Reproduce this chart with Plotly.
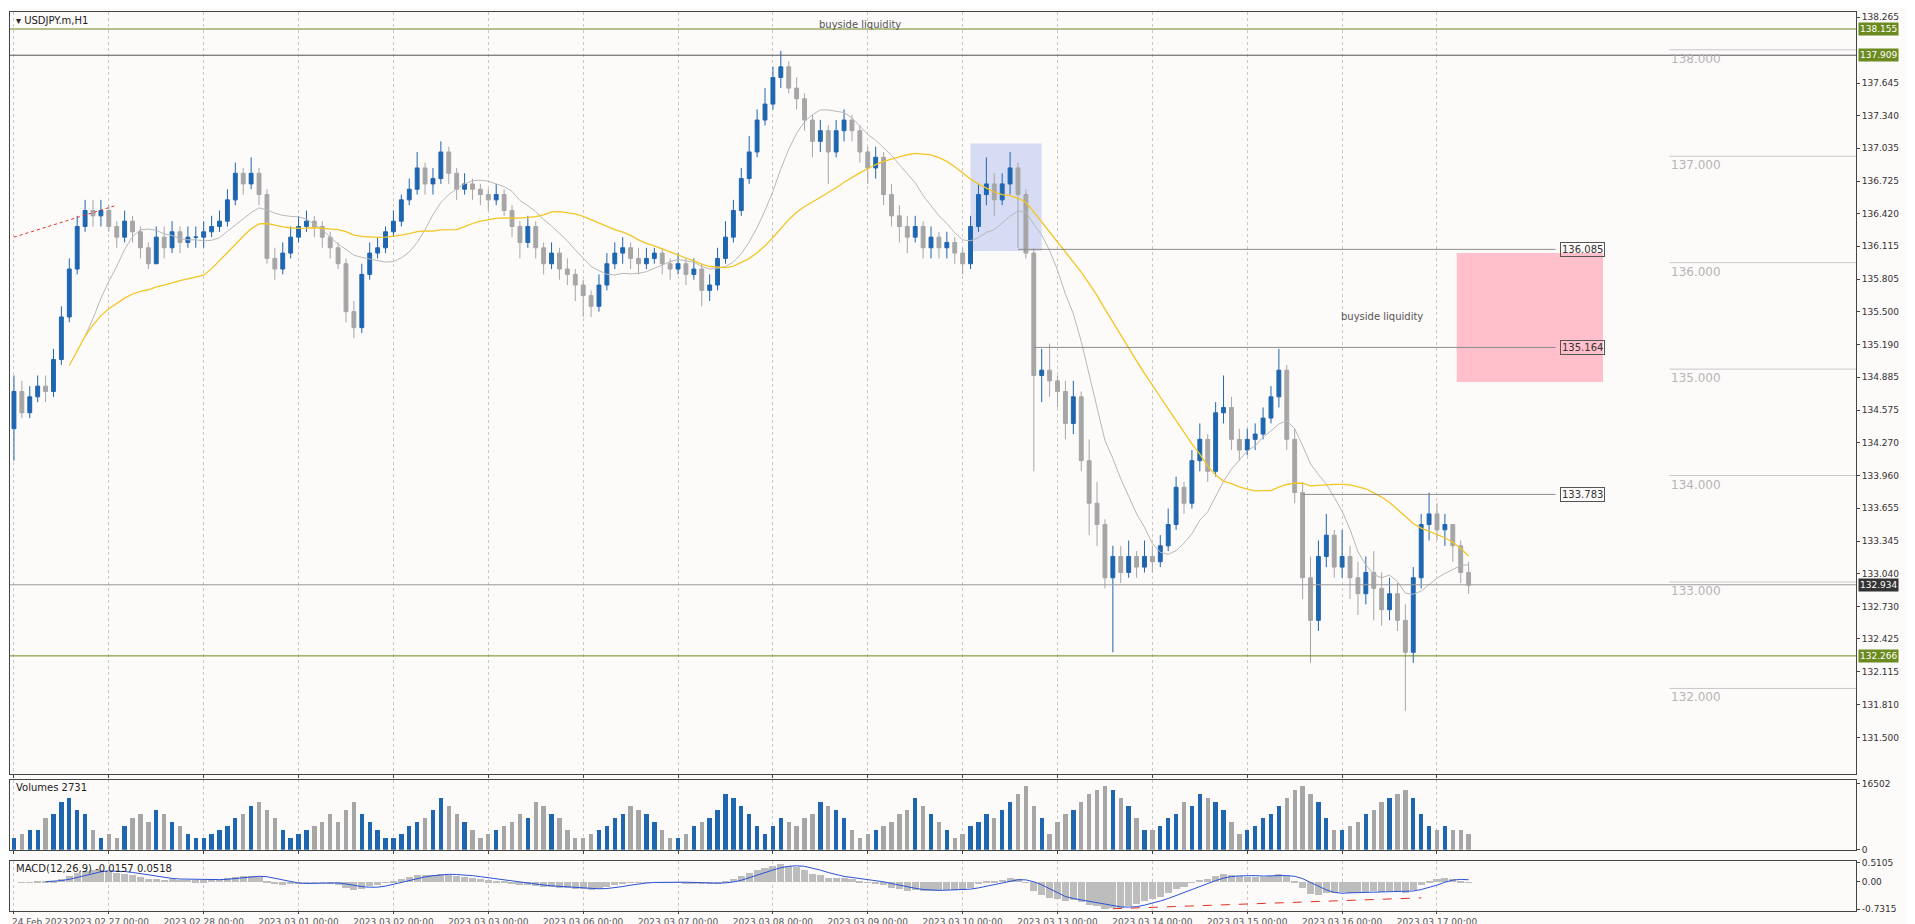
import pandas as pd
import plotly.graph_objects as go
from plotly.subplots import make_subplots

# 2-hour bars, 12 per trading day (Feb 24 .. Mar 17 08:00)
day_labels = ["", "2023.02.27 00:00", "2023.02.28 00:00", "2023.03.01 00:00",
              "2023.03.02 00:00", "2023.03.03 00:00", "2023.03.06 00:00", "2023.03.07 00:00",
              "2023.03.08 00:00", "2023.03.09 00:00", "2023.03.10 00:00", "2023.03.13 00:00",
              "2023.03.14 00:00", "2023.03.15 00:00", "2023.03.16 00:00", "2023.03.17 00:00"]
first_label = "24 Feb 2023"

first_open = 134.4
close = [
    134.75, 134.55, 134.7, 134.8, 134.75, 135.05, 135.45, 135.9, 136.3, 136.45, 136.4, 136.45,
    136.3, 136.2, 136.35, 136.25, 136.1, 135.95, 136.2, 136.1, 136.25, 136.15, 136.2, 136.2,
    136.25, 136.3, 136.35, 136.55, 136.8, 136.7, 136.8, 136.6, 136.0, 135.9, 136.05, 136.2,
    136.3, 136.35, 136.3, 136.2, 136.1, 135.95, 135.5, 135.35, 135.85, 136.05, 136.1, 136.25,
    136.35, 136.55, 136.65, 136.85, 136.7, 136.75, 137.0, 136.8, 136.65, 136.7, 136.65, 136.6,
    136.55, 136.6, 136.45, 136.3, 136.15, 136.3, 136.1, 135.95, 136.05, 135.9, 135.85, 135.75,
    135.65, 135.55, 135.75, 135.95, 136.05, 136.1, 136.0, 135.95, 136.0, 136.05, 135.95, 135.9,
    135.95, 135.85, 135.9, 135.7, 135.75, 136.0, 136.2, 136.45, 136.75, 137.0, 137.3, 137.45,
    137.7, 137.8, 137.6, 137.5, 137.3, 137.1, 137.2, 137.0, 137.2, 137.3, 137.2, 137.0,
    136.85, 136.95, 136.6, 136.4, 136.3, 136.2, 136.3, 136.1, 136.2, 136.1, 136.15, 136.05,
    135.95, 136.3, 136.6, 136.7, 136.55, 136.7, 136.85, 136.6, 136.05, 134.9, 134.95, 134.85,
    134.75, 134.45, 134.7, 134.1, 133.7, 133.5, 133.0, 133.2, 133.05, 133.2, 133.1, 133.2,
    133.15, 133.3, 133.5, 133.85, 133.7, 134.1, 134.3, 134.0, 134.55, 134.6, 134.3, 134.2,
    134.3, 134.35, 134.5, 134.7, 134.95, 134.3, 133.8, 133.0, 132.6, 133.2, 133.4, 133.1,
    133.2, 133.0, 132.85, 133.05, 132.9, 132.7, 132.85, 132.6, 132.3, 133.0, 133.5, 133.6,
    133.45, 133.5, 133.3, 133.05, 132.93]
high = [
    134.9, 134.85, 134.8, 134.9, 134.9, 135.15, 135.55, 136.0, 136.4, 136.55, 136.55, 136.55,
    136.5, 136.35, 136.45, 136.4, 136.3, 136.15, 136.3, 136.3, 136.35, 136.3, 136.3, 136.3,
    136.35, 136.4, 136.45, 136.65, 136.9, 136.85, 136.95, 136.85, 136.65, 136.1, 136.15, 136.3,
    136.4, 136.45, 136.4, 136.35, 136.25, 136.15, 136.0, 135.6, 135.95, 136.15, 136.2, 136.3,
    136.45, 136.6, 136.75, 137.0, 136.9, 136.85, 137.1, 137.05, 136.85, 136.8, 136.75, 136.7,
    136.65, 136.7, 136.65, 136.5, 136.35, 136.4, 136.35, 136.15, 136.15, 136.1, 136.0, 135.9,
    135.8, 135.7, 135.85, 136.05, 136.15, 136.2, 136.15, 136.1, 136.1, 136.1, 136.1, 136.0,
    136.05, 136.0, 136.0, 135.95, 135.85, 136.1, 136.35, 136.55, 136.85, 137.15, 137.4, 137.6,
    137.8, 137.95, 137.85, 137.7, 137.55, 137.35, 137.3, 137.25, 137.3, 137.4, 137.35, 137.25,
    137.05, 137.05, 137.0, 136.7, 136.5, 136.4, 136.4, 136.35, 136.3, 136.25, 136.25, 136.2,
    136.1, 136.4, 136.7, 136.95, 136.8, 136.8, 137.0, 136.9, 136.65, 136.1, 135.15, 135.2,
    134.9, 134.85, 134.85, 134.75, 134.3, 133.9, 133.55, 133.3, 133.3, 133.35, 133.25, 133.35,
    133.3, 133.4, 133.65, 133.95, 133.9, 134.2, 134.45, 134.35, 134.65, 134.9, 134.7, 134.4,
    134.4, 134.45, 134.6, 134.8, 135.15, 135.0, 134.4, 133.9, 133.2, 133.35, 133.6, 133.45,
    133.45, 133.3, 133.15, 133.2, 133.25, 133.05, 133.0, 132.95, 132.75, 133.1, 133.6, 133.8,
    133.7, 133.6, 133.5, 133.35, 133.15]
low = [
    134.1, 134.5, 134.5, 134.65, 134.65, 134.7, 135.0, 135.4, 135.85, 136.25, 136.3, 136.3,
    136.25, 136.1, 136.15, 136.15, 136.0, 135.9, 135.95, 136.0, 136.05, 136.05, 136.1, 136.1,
    136.1, 136.2, 136.25, 136.3, 136.5, 136.6, 136.65, 136.5, 135.95, 135.8, 135.85, 136.0,
    136.15, 136.25, 136.2, 136.1, 136.0, 135.9, 135.4, 135.25, 135.3, 135.8, 136.0, 136.05,
    136.2, 136.3, 136.5, 136.6, 136.6, 136.6, 136.7, 136.7, 136.55, 136.6, 136.55, 136.5,
    136.45, 136.5, 136.4, 136.2, 136.0, 136.1, 136.0, 135.85, 135.9, 135.8, 135.75, 135.6,
    135.45, 135.45, 135.5, 135.7, 135.9, 135.95, 135.9, 135.85, 135.9, 135.95, 135.85, 135.8,
    135.85, 135.75, 135.8, 135.55, 135.6, 135.7, 135.95, 136.15, 136.4, 136.7, 136.95, 137.25,
    137.4, 137.6, 137.55, 137.4, 137.2, 136.95, 137.0, 136.7, 136.95, 137.1, 137.1, 136.9,
    136.7, 136.75, 136.5, 136.3, 136.15, 136.05, 136.15, 136.0, 136.0, 136.0, 136.0, 135.95,
    135.85, 135.9, 136.25, 136.5, 136.4, 136.5, 136.6, 136.1, 136.0, 134.0, 134.65, 134.7,
    134.6, 134.3, 134.35, 134.0, 133.4, 133.3, 132.9, 132.3, 132.95, 133.0, 133.0, 133.05,
    133.05, 133.1, 133.25, 133.45, 133.6, 133.65, 134.0, 133.9, 133.95, 134.45, 134.2, 134.1,
    134.15, 134.2, 134.3, 134.45, 134.6, 134.2, 133.7, 132.8, 132.2, 132.5, 133.1, 133.0,
    133.0, 132.8, 132.65, 132.75, 132.6, 132.55, 132.6, 132.5, 131.75, 132.2, 132.9, 133.35,
    133.35, 133.3, 133.15, 132.95, 132.85]
volume_k = [
    3, 4, 5, 5, 8, 9, 12, 13, 10, 9, 5, 3,
    4, 3, 6, 8, 9, 7, 10, 9, 7, 6, 4, 3,
    3, 4, 5, 6, 8, 9, 11, 12, 10, 8, 5, 3,
    4, 5, 6, 7, 9, 7, 10, 12, 9, 7, 5, 3,
    3, 4, 6, 7, 8, 10, 13, 11, 9, 7, 5, 3,
    4, 5, 6, 7, 9, 8, 12, 11, 9, 8, 5, 3,
    3, 4, 5, 6, 8, 9, 11, 10, 9, 7, 5, 3,
    3, 4, 6, 7, 8, 10, 14, 13, 11, 9, 6, 4,
    6, 8, 7, 6, 8, 9, 12, 11, 10, 8, 5, 3,
    4, 5, 6, 7, 9, 10, 13, 11, 9, 7, 5, 3,
    4, 6, 7, 9, 8, 10, 12, 14, 16, 11, 8, 4,
    7, 9, 10, 12, 14, 15, 16, 15, 13, 11, 8, 5,
    5, 6, 8, 9, 12, 11, 14, 13, 12, 10, 7, 4,
    5, 6, 8, 9, 11, 13, 15, 16, 14, 12, 8, 5,
    5, 6, 7, 9, 10, 12, 13, 14, 15, 13, 9, 6,
    5, 6, 5, 5, 4]

price_ticks = [138.265, 137.645, 137.340, 137.035, 136.725, 136.420, 136.115, 135.805, 135.500,
               135.190, 134.885, 134.575, 134.270, 133.960, 133.655, 133.345, 133.040, 132.730,
               132.425, 132.115, 131.810, 131.500]
round_levels = [138, 137, 136, 135, 134, 133, 132]

df = pd.DataFrame({"close": close, "high": high, "low": low, "vol": [v * 1000 for v in volume_k]})
df["open"] = df["close"].shift(1).fillna(first_open)
df["ma_fast"] = df["close"].rolling(10).mean()
df["ma_slow"] = df["close"].rolling(25, min_periods=8).mean()
macd = df["close"].ewm(span=6).mean() - df["close"].ewm(span=13).mean()
signal = macd.rolling(5).mean()
idx = list(range(len(df)))

BLUE = "#1e66b0"
GRAY = "#a6a6a6"
GREEN = "#6b8a1f"

fig = make_subplots(rows=3, cols=1, shared_xaxes=True, vertical_spacing=0.005)

fig.add_trace(go.Candlestick(
    x=idx, open=df["open"], high=df["high"], low=df["low"], close=df["close"],
    increasing=dict(line=dict(color=BLUE, width=1), fillcolor=BLUE),
    decreasing=dict(line=dict(color=GRAY, width=1), fillcolor=GRAY),
    whiskerwidth=0, showlegend=False), row=1, col=1)
fig.add_trace(go.Scatter(x=idx, y=df["ma_fast"], mode="lines",
                         line=dict(color="#b8b8b8", width=1), showlegend=False), row=1, col=1)
fig.add_trace(go.Scatter(x=idx, y=df["ma_slow"], mode="lines",
                         line=dict(color="#f2c623", width=1.3), showlegend=False), row=1, col=1)

vcol = [BLUE if c >= o else GRAY for c, o in zip(df["close"], df["open"])]
fig.add_trace(go.Bar(x=idx, y=df["vol"], marker_color=vcol, marker_line_width=0,
                     width=0.55, showlegend=False), row=2, col=1)

fig.add_trace(go.Bar(x=idx, y=macd, marker_color="#bdbdbd", marker_line_width=0,
                     width=0.9, showlegend=False), row=3, col=1)
fig.add_trace(go.Scatter(x=idx, y=signal, mode="lines",
                         line=dict(color="#2a52d6", width=1), showlegend=False), row=3, col=1)

# horizontal levels
for lvl, col in [(138.155, GREEN), (137.909, "#555555"), (132.266, GREEN), (132.934, "#9a9a9a")]:
    fig.add_shape(type="line", xref="x domain", x0=0, x1=1, y0=lvl, y1=lvl,
                  line=dict(color=col, width=1), row=1, col=1)
for x0, lvl in [(127, 136.085), (129, 135.164), (163, 133.783)]:
    fig.add_shape(type="line", x0=x0, x1=195, y0=lvl, y1=lvl,
                  line=dict(color="#8c8c8c", width=1), row=1, col=1)
    fig.add_annotation(x=195.6, y=lvl, text=f"{lvl:.3f}", showarrow=False, xanchor="left",
                       font=dict(size=10, color="#333"), bordercolor="#555", borderwidth=1,
                       borderpad=1, bgcolor="rgba(253,250,250,0)", row=1, col=1)
for lvl in round_levels:
    fig.add_shape(type="line", x0=209.4, x1=233, y0=lvl - 0.04, y1=lvl - 0.04,
                  line=dict(color="#c8c8c8", width=1), row=1, col=1)
    fig.add_annotation(x=209.4, y=lvl - 0.04, text=f"{lvl:.3f}", showarrow=False,
                       xanchor="left", yanchor="top", font=dict(size=12, color="#b5b5b5"),
                       row=1, col=1)

fig.add_shape(type="rect", x0=121, x1=130, y0=136.07, y1=137.08, line_width=0,
              fillcolor="rgba(190,200,240,0.6)", layer="below", row=1, col=1)
fig.add_shape(type="rect", x0=182.5, x1=201, y0=134.84, y1=136.05, line_width=0,
              fillcolor="#ffc0cb", layer="below", row=1, col=1)
fig.add_shape(type="line", x0=0, x1=13, y0=136.2, y1=136.5,
              line=dict(color="#e03020", width=1, dash="dot"), row=1, col=1)
fig.add_shape(type="line", x0=139, x1=178, y0=-0.72, y1=-0.43,
              line=dict(color="#e03020", width=1, dash="dash"), row=3, col=1)

fig.add_annotation(x=107, y=138.2, text="buyside liquidity", showarrow=False,
                   font=dict(size=10, color="#555"), row=1, col=1)
fig.add_annotation(x=173, y=135.45, text="buyside liquidity", showarrow=False,
                   font=dict(size=10, color="#555"), row=1, col=1)

# right-side price boxes
for lvl, bg in [(138.155, GREEN), (137.909, GREEN), (132.266, GREEN), (132.934, "#333333")]:
    fig.add_annotation(xref="paper", x=1.001, y=lvl, yref="y", text=f"{lvl:.3f}",
                       showarrow=False, xanchor="left", bgcolor=bg,
                       font=dict(size=9, color="white"), borderpad=1)

fig.add_annotation(xref="paper", yref="paper", x=0.002, y=0.999, text="▾ USDJPY.m,H1",
                   showarrow=False, xanchor="left", yanchor="top", font=dict(size=10, color="#222"))
fig.add_annotation(xref="paper", yref="paper", x=0.002, y=0.146, text="Volumes 2731",
                   showarrow=False, xanchor="left", yanchor="top", font=dict(size=10, color="#222"))
fig.add_annotation(xref="paper", yref="paper", x=0.002, y=0.056,
                   text="MACD(12,26,9) -0.0157 0.0518", showarrow=False, xanchor="left",
                   yanchor="top", font=dict(size=10, color="#222"))
fig.add_annotation(xref="paper", yref="paper", x=0, y=-0.004, text=first_label,
                   showarrow=False, xanchor="left", yanchor="top", font=dict(size=9, color="#555"))

axis_common = dict(showline=True, linecolor="#444", linewidth=1, mirror=True,
                   ticks="outside", tickcolor="#444", ticklen=3, zeroline=False)
tick_font = dict(size=9, color="#333", family="DejaVu Sans")

fig.update_xaxes(range=[-0.5, 233], showgrid=True, gridcolor="#c8c8c8", griddash="dot",
                 tickvals=list(range(0, 192, 12)), ticktext=day_labels,
                 rangeslider_visible=False, tickfont=dict(size=9, color="#555"),
                 showticklabels=False, **axis_common)
fig.update_xaxes(showticklabels=True, ticklen=2, row=3, col=1)

fig.update_layout(
    width=1898, height=922, paper_bgcolor="#fdfafa", plot_bgcolor="#fdfafa",
    margin=dict(l=1, r=50, t=1, b=19), bargap=0, showlegend=False,
    font=dict(family="DejaVu Sans"),
    yaxis=dict(domain=[0.152, 1], range=[131.153, 138.315], side="right", tickvals=price_ticks,
               ticktext=[f"{v:.3f}" for v in price_ticks], showgrid=False, tickfont=tick_font,
               ticklabelstandoff=0, **axis_common),
    yaxis2=dict(domain=[0.068, 0.146], range=[0, 17500], side="right", tickvals=[0, 16502],
                ticktext=["0", "16502"], showgrid=False, tickfont=tick_font,
                ticklabelstandoff=0, **axis_common),
    yaxis3=dict(domain=[0, 0.056], range=[-0.78, 0.56], side="right",
                tickvals=[-0.7315, 0, 0.5105], ticktext=["-0.7315", "0.00", "0.5105"],
                showgrid=False, tickfont=tick_font, ticklabelstandoff=0, **axis_common),
)

fig.write_html("out.html")
